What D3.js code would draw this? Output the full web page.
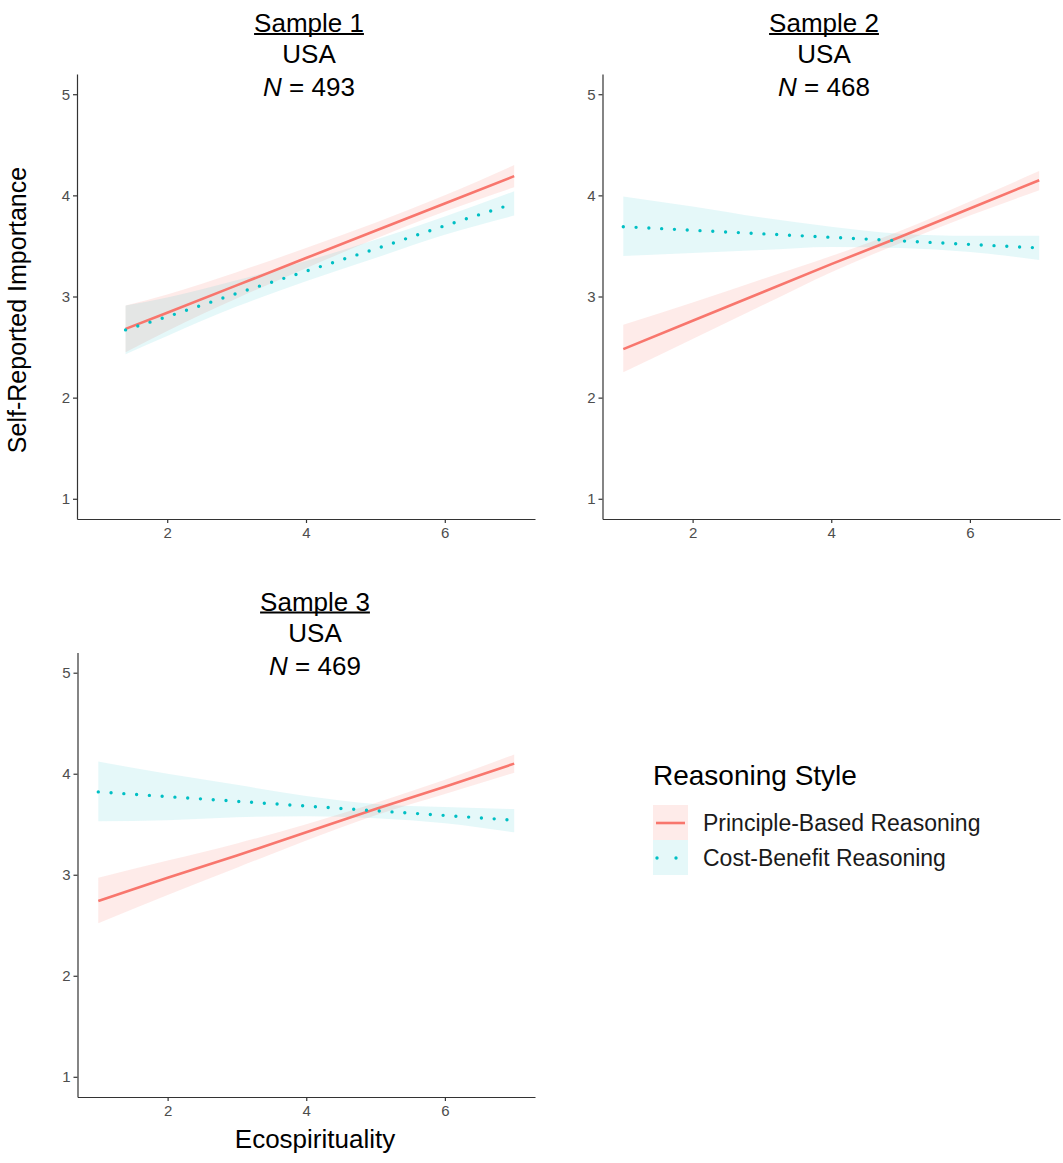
<!DOCTYPE html>
<html>
<head>
<meta charset="utf-8">
<script src="https://cdn.jsdelivr.net/npm/d3@7"></script>
<style>
  body { margin: 0; background: #fff; }
  svg { display: block; font-family: "Liberation Sans", Arial, Helvetica, sans-serif; }
  .axis path, .axis line { stroke: #333; stroke-width: 1.2px; }
  .axis text { fill: #4d4d4d; font-size: 15px; font-family: "Liberation Sans", Arial, sans-serif; }
</style>
</head>
<body>
<svg width="1063" height="1163"></svg>
<script>

// ---- data ----

var sampleTitles = ["Sample 1", "Sample 2", "Sample 3"];
var countries = ["USA", "USA", "USA"];
var sampleSizes = [493, 468, 469];
var seriesNames = ["Principle-Based Reasoning", "Cost-Benefit Reasoning"];

var xTicks = [2, 4, 6];
var yTicks = [1, 2, 3, 4, 5];

// sample 1
var s1X          = [1.4, 2, 3, 4, 5, 6, 7];
var s1PrincFit   = [2.68, 2.84, 3.11, 3.38, 3.65, 3.92, 4.19];
var s1PrincLo    = [2.45, 2.66, 2.98, 3.28, 3.57, 3.84, 4.08];
var s1PrincHi    = [2.91, 3.02, 3.24, 3.48, 3.73, 4.00, 4.30];
var s1CostFit    = [2.67, 2.80, 3.03, 3.25, 3.47, 3.70, 3.92];
var s1CostLo     = [2.43, 2.61, 2.90, 3.15, 3.38, 3.61, 3.80];
var s1CostHi     = [2.91, 2.99, 3.16, 3.35, 3.56, 3.79, 4.04];

// sample 2
var s2X          = [1, 2, 3, 4, 5, 6, 7];
var s2PrincFit   = [2.48, 2.76, 3.04, 3.32, 3.59, 3.87, 4.15];
var s2PrincLo    = [2.25, 2.58, 2.91, 3.24, 3.53, 3.80, 4.05];
var s2PrincHi    = [2.72, 2.94, 3.17, 3.40, 3.65, 3.94, 4.24];
var s2CostFit    = [3.69, 3.655, 3.62, 3.585, 3.55, 3.515, 3.48];
var s2CostLo     = [3.40, 3.43, 3.46, 3.49, 3.48, 3.44, 3.36];
var s2CostHi     = [3.99, 3.89, 3.78, 3.69, 3.62, 3.60, 3.60];

// sample 3
var s3X          = [1, 2, 3, 4, 5, 6, 7];
var s3PrincFit   = [2.74, 2.97, 3.19, 3.42, 3.65, 3.87, 4.10];
var s3PrincLo    = [2.52, 2.80, 3.07, 3.34, 3.59, 3.80, 4.01];
var s3PrincHi    = [2.97, 3.14, 3.31, 3.50, 3.71, 3.94, 4.19];
var s3CostFit    = [3.82, 3.773, 3.727, 3.68, 3.633, 3.587, 3.54];
var s3CostLo     = [3.53, 3.54, 3.57, 3.58, 3.56, 3.51, 3.42];
var s3CostHi     = [4.12, 4.00, 3.89, 3.78, 3.70, 3.67, 3.65];

// ---- layout ----

var red = "#F8766D";
var teal = "#00BFC4";
var fontFamily = "'Liberation Sans', Arial, Helvetica, sans-serif";

function rows(xs, fit, lo, hi) {
	return xs.map(function(x, i) { return {x: x, fit: fit[i], lo: lo[i], hi: hi[i]}; });
}

var panels = [
	{ box: {l: 77, t: 74, r: 535, b: 519}, titleX: 309,
	  princ: rows(s1X, s1PrincFit, s1PrincLo, s1PrincHi), cost: rows(s1X, s1CostFit, s1CostLo, s1CostHi) },
	{ box: {l: 602.5, t: 74, r: 1060, b: 519}, titleX: 824,
	  princ: rows(s2X, s2PrincFit, s2PrincLo, s2PrincHi), cost: rows(s2X, s2CostFit, s2CostLo, s2CostHi) },
	{ box: {l: 77.5, t: 652.5, r: 535, b: 1097}, titleX: 315,
	  princ: rows(s3X, s3PrincFit, s3PrincLo, s3PrincHi), cost: rows(s3X, s3CostFit, s3CostLo, s3CostHi) }
];

var svg = d3.select("svg");

panels.forEach(function(p, i) {
	var g = svg.append("g");
	var b = p.box;

	var x = d3.scaleLinear().domain([0.7, 7.3]).range([b.l, b.r]);
	var y = d3.scaleLinear().domain([0.8, 5.2]).range([b.b, b.t]);

	var band = d3.area()
		.x(function(d) { return x(d.x); })
		.y0(function(d) { return y(d.lo); })
		.y1(function(d) { return y(d.hi); })
		.curve(d3.curveMonotoneX);

	var fitLine = d3.line()
		.x(function(d) { return x(d.x); })
		.y(function(d) { return y(d.fit); });

	// confidence ribbons
	g.append("path").datum(p.princ).attr("d", band)
		.attr("fill", red).attr("fill-opacity", 0.15);
	g.append("path").datum(p.cost).attr("d", band)
		.attr("fill", teal).attr("fill-opacity", 0.1);

	// fitted lines
	g.append("path").datum(p.princ).attr("d", fitLine)
		.attr("fill", "none").attr("stroke", red).attr("stroke-width", 2.6);
	g.append("path").datum(p.cost).attr("d", fitLine)
		.attr("fill", "none").attr("stroke", teal).attr("stroke-width", 3.4)
		.attr("stroke-linecap", "round").attr("stroke-dasharray", "0 12.8");

	// axes
	g.append("g").attr("class", "axis")
		.attr("transform", "translate(0," + b.b + ")")
		.call(d3.axisBottom(x).tickValues(xTicks).tickFormat(d3.format("d"))
			.tickSize(4).tickSizeOuter(0).tickPadding(4));
	g.append("g").attr("class", "axis")
		.attr("transform", "translate(" + b.l + ",0)")
		.call(d3.axisLeft(y).tickValues(yTicks).tickFormat(d3.format("d"))
			.tickSize(4).tickSizeOuter(0).tickPadding(3));

	// panel title: underlined sample, country, italic N
	var t1 = g.append("text")
		.attr("x", p.titleX).attr("y", b.t - 42)
		.attr("text-anchor", "middle")
		.attr("font-family", fontFamily).attr("font-size", 26)
		.text(sampleTitles[i]);
	var w = t1.node().getComputedTextLength();
	g.append("line")
		.attr("x1", p.titleX - w / 2).attr("x2", p.titleX + w / 2)
		.attr("y1", b.t - 40).attr("y2", b.t - 40)
		.attr("stroke", "#000").attr("stroke-width", 1.8);

	g.append("text")
		.attr("x", p.titleX).attr("y", b.t - 11)
		.attr("text-anchor", "middle")
		.attr("font-family", fontFamily).attr("font-size", 26)
		.text(countries[i]);

	var t3 = g.append("text")
		.attr("x", p.titleX).attr("y", b.t + 22)
		.attr("text-anchor", "middle")
		.attr("font-family", fontFamily).attr("font-size", 26);
	t3.append("tspan").attr("font-style", "italic").text("N");
	t3.append("tspan").text(" = " + sampleSizes[i]);
});

// axis titles
svg.append("text")
	.attr("transform", "translate(26,310) rotate(-90)")
	.attr("text-anchor", "middle")
	.attr("font-family", fontFamily).attr("font-size", 25)
	.text("Self-Reported Importance");

svg.append("text")
	.attr("x", 315).attr("y", 1148)
	.attr("text-anchor", "middle")
	.attr("font-family", fontFamily).attr("font-size", 26)
	.text("Ecospirituality");

// legend
var legend = svg.append("g").attr("transform", "translate(653,0)");

legend.append("text")
	.attr("x", 0).attr("y", 785)
	.attr("font-family", fontFamily).attr("font-size", 28)
	.text("Reasoning Style");

var keyColors = [red, teal];
var keyOpacity = [0.15, 0.1];
seriesNames.forEach(function(name, i) {
	var top = 805 + i * 35;
	legend.append("rect")
		.attr("x", 0).attr("y", top).attr("width", 35).attr("height", 35)
		.attr("fill", keyColors[i]).attr("fill-opacity", keyOpacity[i]);
	var key = legend.append("line")
		.attr("x1", 3).attr("x2", 32)
		.attr("y1", top + 18).attr("y2", top + 18)
		.attr("stroke", keyColors[i]);
	if (i == 0) {
		key.attr("stroke-width", 2.6);
	} else {
		key.attr("x1", 4).attr("x2", 24)
			.attr("stroke-width", 3.4).attr("stroke-linecap", "round")
			.attr("stroke-dasharray", "0 19");
	}
	legend.append("text")
		.attr("x", 50).attr("y", top + 26)
		.attr("font-family", fontFamily).attr("font-size", 23)
		.attr("fill", "#1a1a1a")
		.text(name);
});

</script>
</body>
</html>
